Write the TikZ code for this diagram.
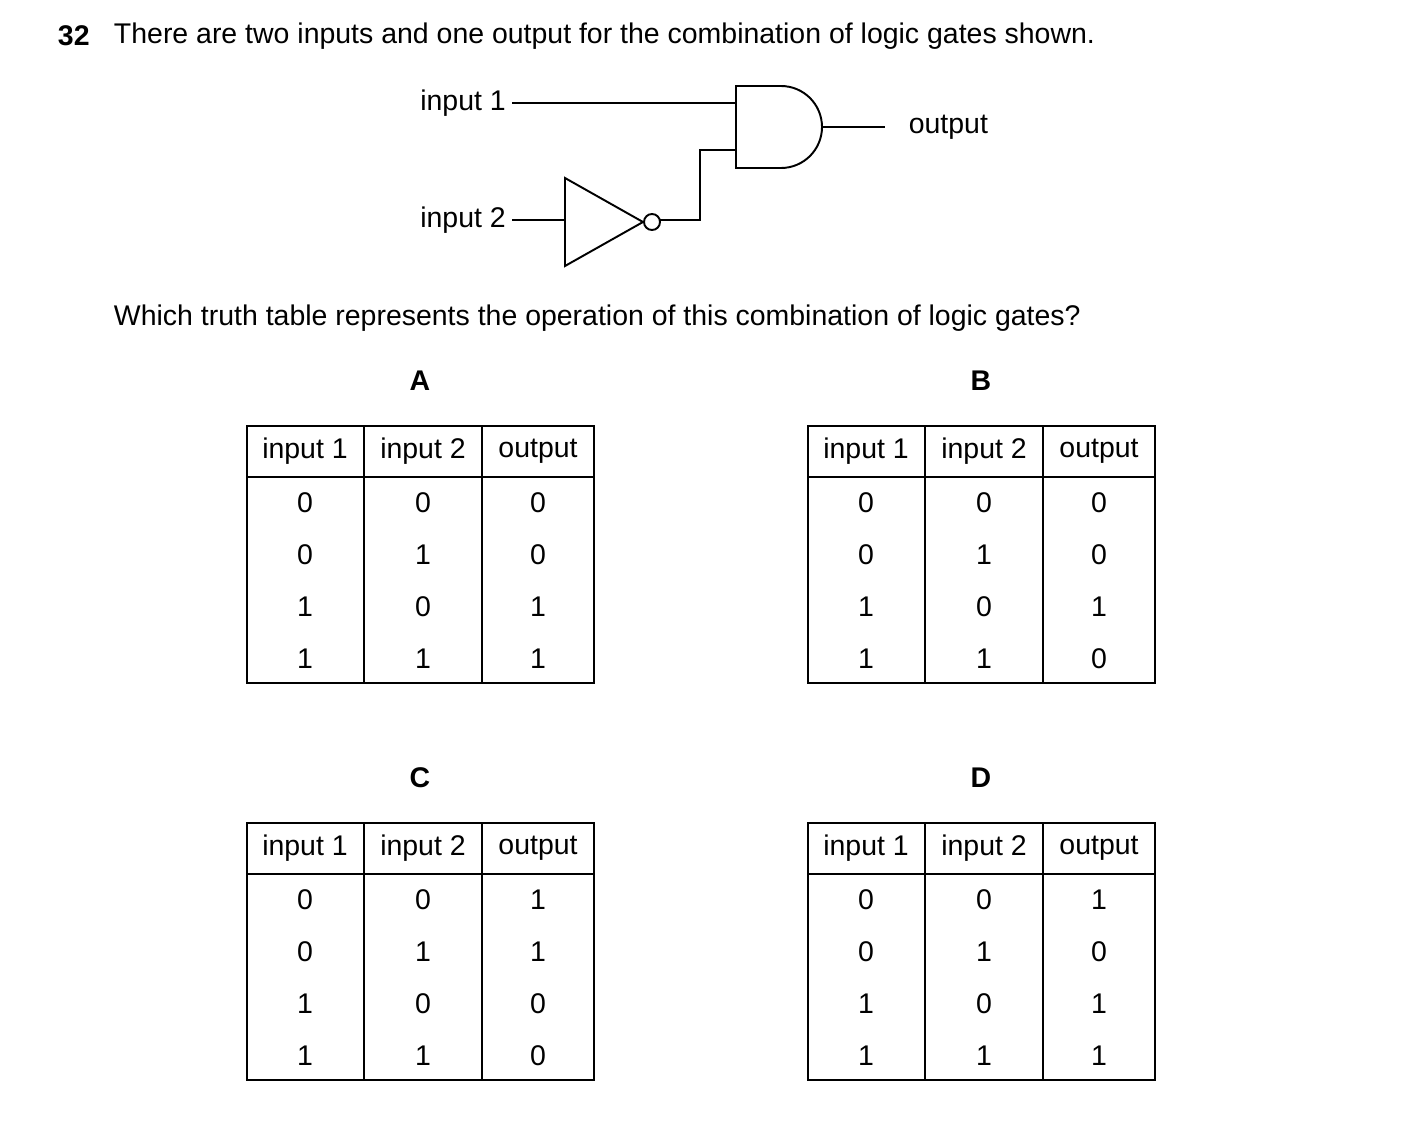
\documentclass[tikz,border=0pt]{standalone}
\usepackage{fontspec}
\setmainfont{Liberation Sans}
\usepackage{tikz}

\begin{document}
\begin{tikzpicture}[x=0.02cm, y=-0.02cm, line width=1.1pt,
  txt/.style={font=\fontsize{16.2}{19}\selectfont, inner sep=0pt},
  lbl/.style={font=\fontsize{16.2}{19}\selectfont\bfseries, inner sep=0pt}]
  \useasboundingbox (0,0) rectangle (1403,1129);
  \node[lbl, anchor=west] at (57,36) {32};
  \node[txt, anchor=west] at (113,36) {There are two inputs and one output for the combination of logic gates shown.};
  % gates
  \coordinate (in1) at (512,103);
  \coordinate (and1) at (736,103);
  \coordinate (and2) at (736,150);
  \coordinate (andout) at (822,127);
  \coordinate (out) at (885,127);
  \coordinate (in2) at (512,220);
  \coordinate (notin) at (565,220);
  \coordinate (notout) at (660,220);
  \coordinate (bend) at (700,220);
  \node[txt, anchor=east] at ([xshift=-3]in1) {input 1};
  \node[txt, anchor=east] at ([xshift=-3]in2) {input 2};
  \node[txt, anchor=west] at ([xshift=13]out) {output};
  \draw (736,86) -- (781,86) arc (-90:90:41) -- (736,168) -- cycle;
  \draw (565,178) -- (643,222) -- (565,266) -- cycle;
  \draw (652,222) circle (8);
  \draw (in1) -- (and1);
  \draw (in2) -- (notin);
  \draw (notout) -- (bend) |- (and2);
  \draw (andout) -- (out);
  \node[txt, anchor=west] at (113,318) {Which truth table represents the operation of this combination of logic gates?};
  % truth tables
  \foreach \name/\x/\y/\outs in {A/247/426/{0,0,1,1}, B/808/426/{0,0,1,0}, C/247/823/{1,1,0,0}, D/808/823/{1,0,1,1}} {
    \node[lbl] at (\x+173,\y-45) {\name};
    \draw[line width=0.8pt] (\x,\y) rectangle (\x+347,\y+257);
    \draw[line width=0.8pt] (\x,\y+51) -- (\x+347,\y+51);
    \draw[line width=0.8pt] (\x+117,\y) -- (\x+117,\y+257);
    \draw[line width=0.8pt] (\x+235,\y) -- (\x+235,\y+257);
    \node[txt] at (\x+58,\y+25) {input 1};
    \node[txt] at (\x+176,\y+25) {input 2};
    \node[txt] at (\x+291,\y+25) {output};
    \foreach \a/\b [count=\r] in {0/0,0/1,1/0,1/1} {
      \node[txt] at (\x+58,\y+25+52*\r) {\a};
      \node[txt] at (\x+176,\y+25+52*\r) {\b};
    }
    \foreach \o [count=\r] in \outs
      \node[txt] at (\x+291,\y+25+52*\r) {\o};
  }
\end{tikzpicture}
\end{document}
